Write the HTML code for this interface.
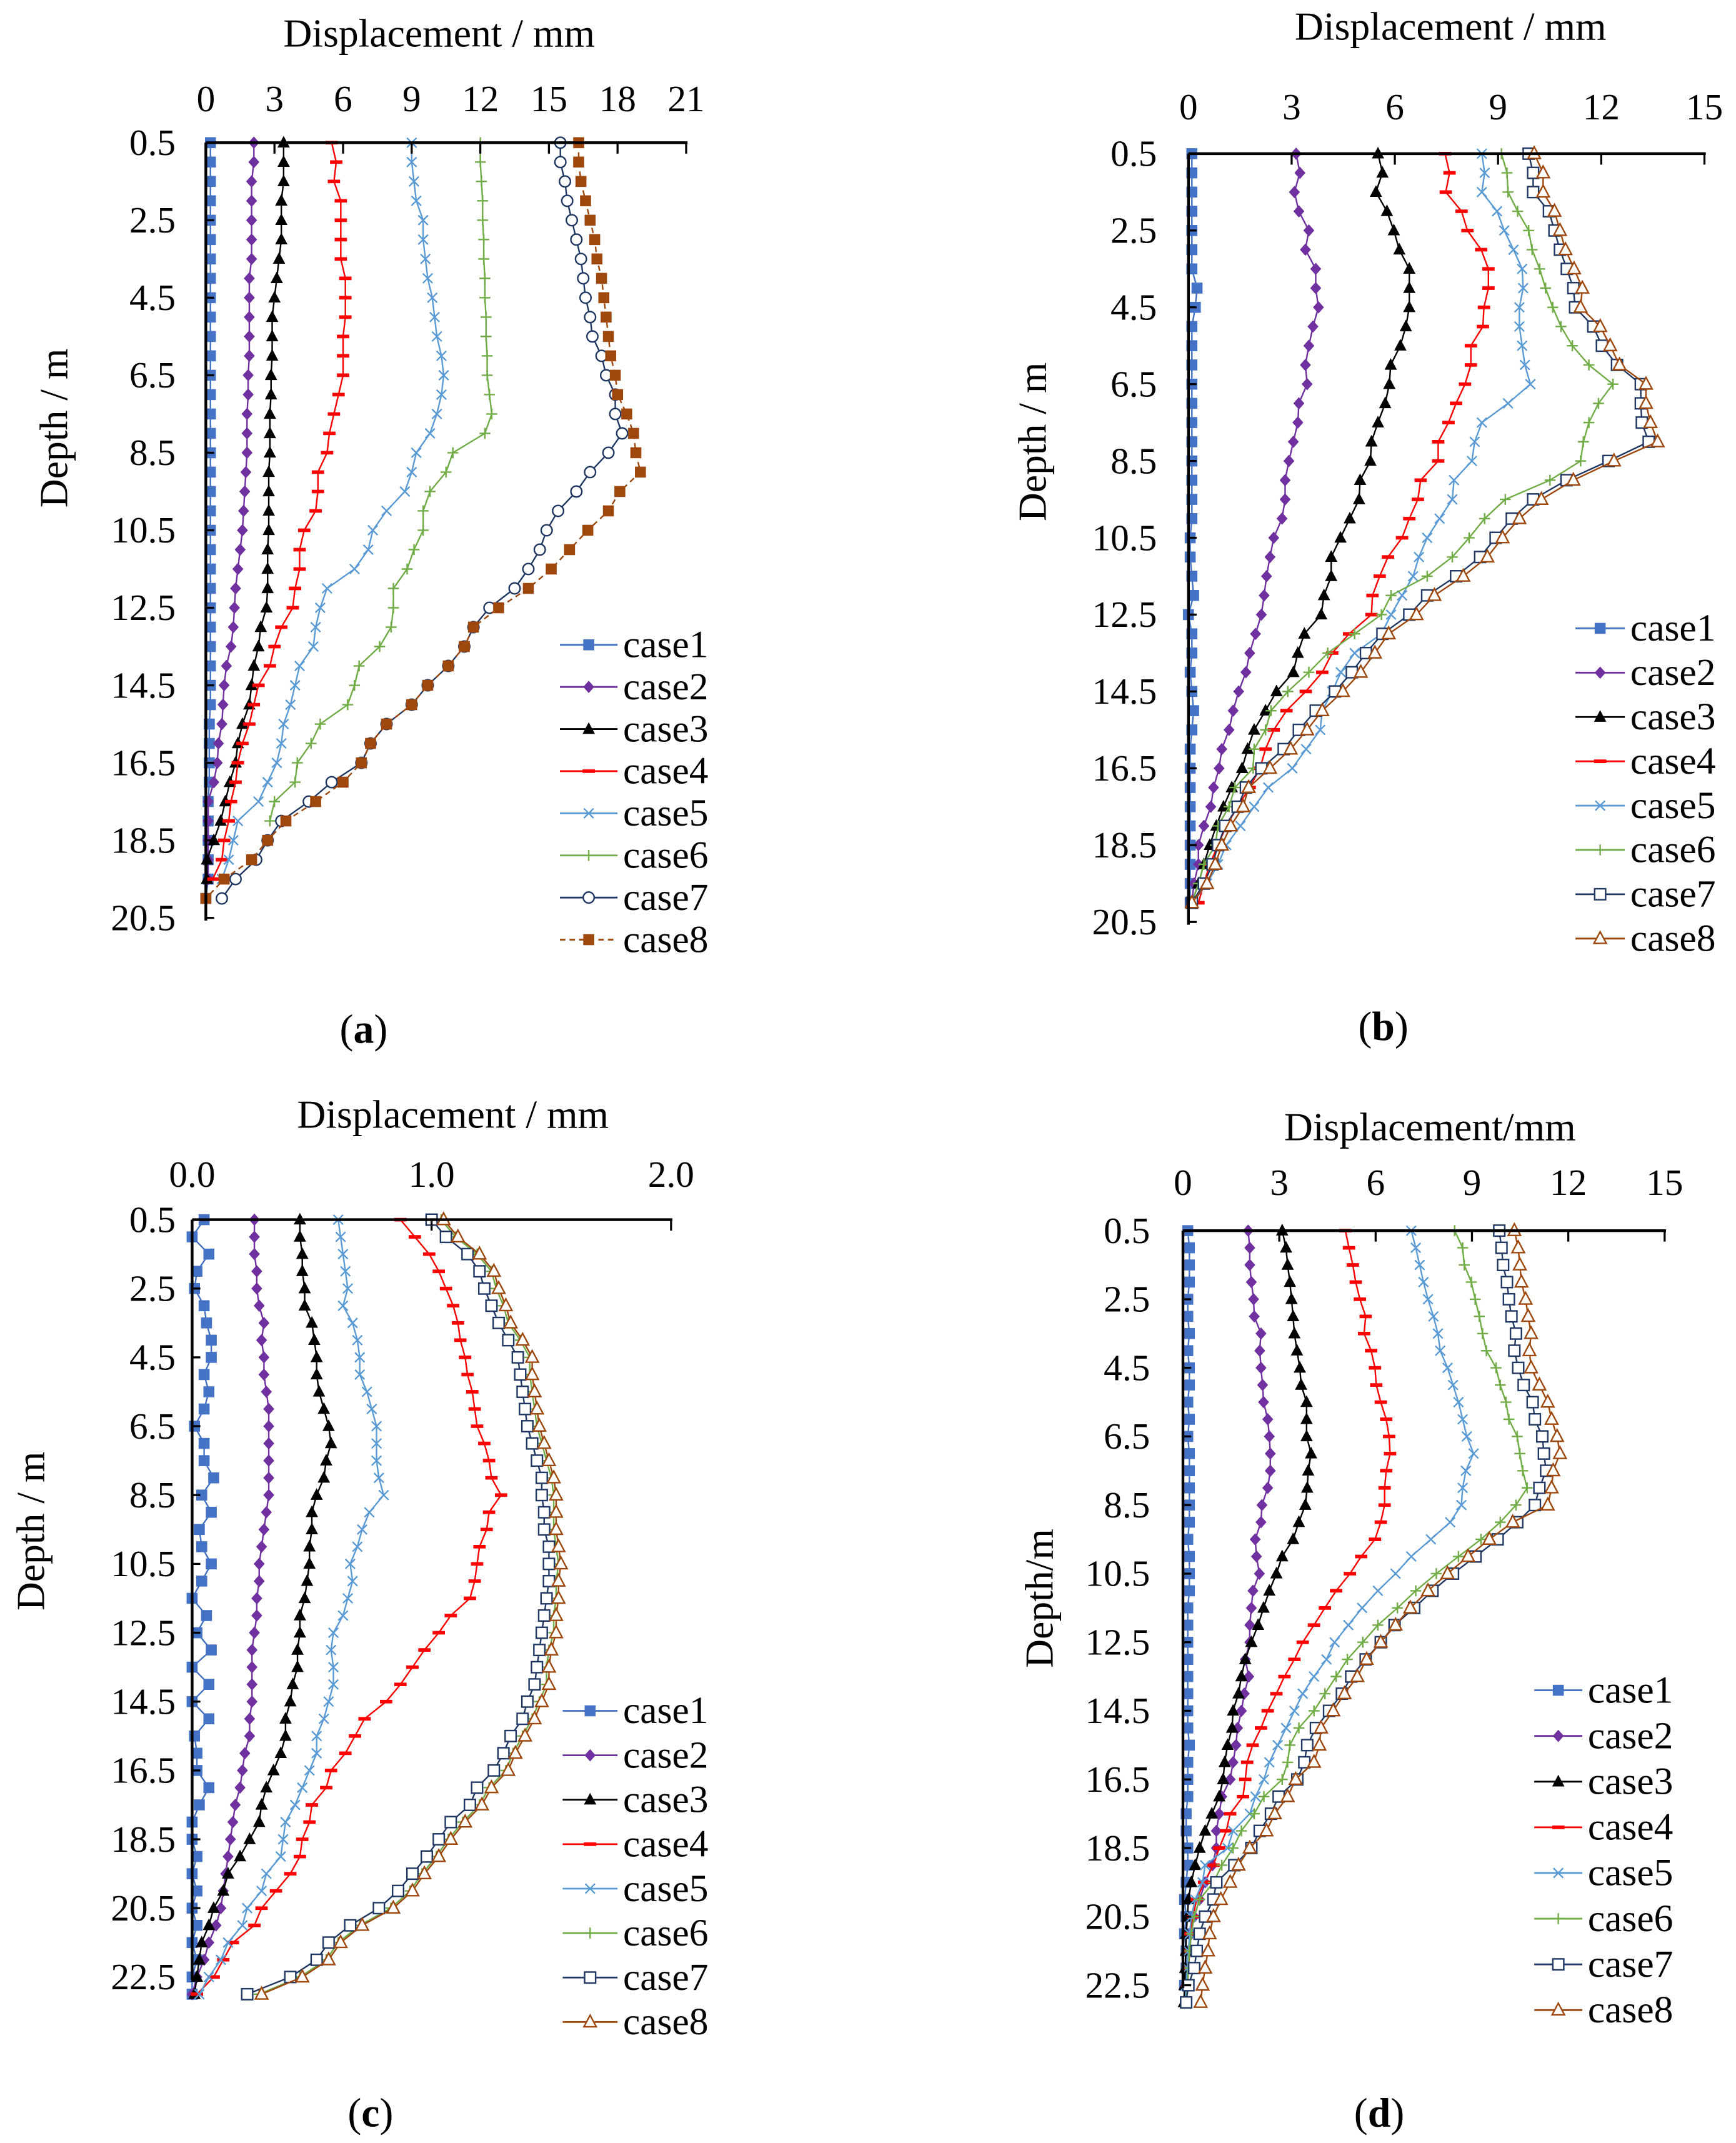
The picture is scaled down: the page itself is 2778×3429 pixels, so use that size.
<!DOCTYPE html>
<html><head><meta charset="utf-8"><style>
html,body{margin:0;padding:0;background:#fff;}
svg{display:block;}
svg text{font-family:"Liberation Serif","Times New Roman",serif;}
</style></head><body>
<svg id="chart" xmlns="http://www.w3.org/2000/svg" width="2778" height="3429" viewBox="0 0 1265 1562" preserveAspectRatio="none" font-family="Liberation Serif, serif"></svg>
<script>
// ---- data ----
const depthsAB = [0.5,1,1.5,2,2.5,3,3.5,4,4.5,5,5.5,6,6.5,7,7.5,8,8.5,9,9.5,10,10.5,11,11.5,12,12.5,13,13.5,14,14.5,15,15.5,16,16.5,17,17.5,18,18.5,19,19.5,20];
const depthsCD = [0.5,1,1.5,2,2.5,3,3.5,4,4.5,5,5.5,6,6.5,7,7.5,8,8.5,9,9.5,10,10.5,11,11.5,12,12.5,13,13.5,14,14.5,15,15.5,16,16.5,17,17.5,18,18.5,19,19.5,20,20.5,21,21.5,22,22.5,23];
const caseNames = ["case1","case2","case3","case4","case5","case6","case7","case8"];
const xTicksA = ["0","3","6","9","12","15","18","21"];
const xTicksB = ["0","3","6","9","12","15"];
const xTicksC = ["0.0","1.0","2.0"];
const xTicksD = ["0","3","6","9","12","15"];
const yTicksAB = ["0.5","2.5","4.5","6.5","8.5","10.5","12.5","14.5","16.5","18.5","20.5"];
const yTicksCD = ["0.5","2.5","4.5","6.5","8.5","10.5","12.5","14.5","16.5","18.5","20.5","22.5"];

const a1 = [0.2,0.2,0.2,0.2,0.2,0.2,0.2,0.2,0.2,0.2,0.2,0.2,0.2,0.2,0.2,0.2,0.2,0.2,0.2,0.2,0.2,0.2,0.2,0.2,0.2,0.2,0.2,0.2,0.2,0.2,0.15,0.15,0.15,0.15,0.1,0.1,0.1,0.1,0.1,0.0];
const a2 = [2.1,2.1,2.0,2.0,2.0,2.0,2.0,1.9,1.9,1.9,1.9,1.9,1.85,1.85,1.8,1.8,1.8,1.75,1.7,1.65,1.6,1.5,1.4,1.3,1.25,1.2,1.1,0.9,0.8,0.75,0.7,0.55,0.5,0.35,0.1,0.1,0.1,0.1,0.1];
const a3 = [3.4,3.4,3.4,3.3,3.3,3.3,3.2,3.1,3.0,2.9,2.9,2.9,2.85,2.85,2.8,2.8,2.8,2.75,2.75,2.75,2.75,2.7,2.7,2.7,2.65,2.4,2.3,2.1,2.0,1.9,1.6,1.4,1.3,1.05,0.85,0.65,0.35,0.05,0.05];
const a4 = [5.5,5.7,5.6,5.9,5.9,5.9,5.9,6.1,6.1,6.1,6.0,6.0,6.0,5.8,5.6,5.4,5.3,4.9,4.9,4.8,4.3,4.1,4.1,3.9,3.8,3.3,3.0,2.8,2.3,2.1,1.9,1.6,1.4,1.3,1.1,1.0,0.8,0.7,0.3];
const a5 = [9.0,9.0,9.1,9.2,9.5,9.5,9.6,9.7,9.9,10.0,10.1,10.3,10.4,10.3,10.1,9.8,9.2,9.0,8.7,7.9,7.3,7.1,6.5,5.3,5.0,4.8,4.7,4.1,3.9,3.7,3.4,3.3,3.1,2.7,2.3,1.4,1.2,1.0,0.7];
const a6 = [12.0,12.0,12.05,12.1,12.1,12.15,12.15,12.2,12.2,12.25,12.25,12.3,12.3,12.4,12.5,12.2,10.8,10.5,9.8,9.5,9.5,9.1,8.8,8.2,8.2,8.1,7.6,6.7,6.5,6.2,5.0,4.6,4.0,3.9,3.0,2.8];
const a7 = [15.5,15.5,15.7,15.8,16.0,16.2,16.4,16.5,16.6,16.8,16.9,17.3,17.5,17.9,17.9,18.2,17.6,16.8,16.2,15.4,14.9,14.6,14.1,13.5,12.4,11.7,11.3,10.6,9.7,9.0,7.9,7.2,6.8,5.5,4.5,3.3,2.7,2.2,1.3,0.7];
const a8 = [16.3,16.3,16.4,16.6,16.8,17.0,17.1,17.3,17.4,17.5,17.6,17.7,17.9,18.0,18.4,18.7,18.8,19.0,18.1,17.6,16.7,15.9,15.1,14.1,12.8,11.7,11.3,10.6,9.7,9.0,7.9,7.2,6.8,6.0,4.8,3.5,2.7,2.0,0.8,0.0];

const b1 = [0.1,0.1,0.1,0.1,0.1,0.1,0.1,0.25,0.2,0.1,0.1,0.1,0.1,0.1,0.1,0.1,0.1,0.1,0.1,0.1,0.05,0.05,0.1,0.15,0.0,0.1,0.1,0.05,0.1,0.15,0.1,0.05,0.05,0.05,0.05,0.05,0.05,0.05,0.05,0.05];
const b2 = [3.13,3.24,3.08,3.21,3.5,3.4,3.7,3.7,3.78,3.62,3.5,3.4,3.45,3.21,3.18,3.05,2.92,2.81,2.81,2.72,2.48,2.37,2.27,2.2,2.12,1.95,1.78,1.67,1.46,1.3,1.18,0.97,0.89,0.73,0.65,0.45,0.29,0.29,0.16,0.1];
const b3 = [5.51,5.64,5.45,5.77,5.97,6.13,6.42,6.42,6.42,6.32,6.16,5.88,5.84,5.72,5.51,5.32,5.29,4.99,4.96,4.69,4.42,4.15,4.15,3.94,3.86,3.37,3.18,3.05,2.56,2.24,1.91,1.72,1.56,1.26,1.02,0.81,0.62,0.45,0.29,0.1];
const b4 = [7.46,7.59,7.48,7.94,8.11,8.51,8.72,8.72,8.59,8.56,8.21,8.21,8.04,7.78,7.56,7.26,7.26,6.75,6.67,6.42,6.21,5.8,5.56,5.35,5.32,4.67,4.18,3.89,3.41,2.85,2.48,2.24,2.08,1.78,1.43,1.1,0.86,0.62,0.45,0.29];
const b5 = [8.53,8.61,8.53,8.97,9.18,9.45,9.7,9.73,9.62,9.62,9.7,9.78,9.94,9.29,8.53,8.32,8.24,7.72,7.67,7.3,6.94,6.7,6.53,6.21,5.89,5.61,4.83,4.43,4.18,3.89,3.83,3.42,3.02,2.32,1.91,1.51,1.1,0.86,0.54,0.13];
const b6 = [9.1,9.26,9.29,9.57,9.89,9.99,10.21,10.38,10.59,10.83,11.16,11.64,12.34,11.92,11.64,11.48,11.4,10.51,9.21,8.61,8.16,7.67,6.94,5.89,5.61,4.83,4.05,3.5,2.89,2.4,2.24,1.91,1.88,1.35,1.18,0.86,0.78,0.45,0.29,0.1];
const b7 = [9.89,10.02,10.02,10.48,10.64,10.8,11.0,11.19,11.24,11.77,12.02,12.46,13.15,13.15,13.18,13.38,12.21,10.99,10.02,9.4,8.93,8.48,7.78,6.94,6.42,5.64,5.16,4.75,4.26,3.7,3.21,2.77,2.12,1.67,1.43,1.07,0.86,0.7,0.45,0.1];
const b8 = [10.05,10.31,10.31,10.64,10.8,10.96,11.21,11.45,11.4,11.97,12.26,12.53,13.3,13.3,13.43,13.64,12.37,11.19,10.26,9.62,9.13,8.69,7.99,7.15,6.63,5.82,5.42,5.01,4.49,3.89,3.45,2.97,2.37,1.75,1.59,1.23,0.97,0.78,0.54,0.1];

const c1 = [0.05,0.0,0.07,0.02,0.01,0.05,0.06,0.08,0.08,0.05,0.07,0.05,0.01,0.05,0.05,0.09,0.04,0.08,0.03,0.04,0.08,0.04,0.0,0.06,0.02,0.08,0.0,0.07,0.0,0.07,0.01,0.02,0.02,0.07,0.03,0.0,0.0,0.02,0.0,0.02,0.0,0.02,0.0,0.02,0.0,0.0];
const c2 = [0.26,0.26,0.26,0.27,0.27,0.28,0.3,0.29,0.3,0.3,0.31,0.32,0.32,0.32,0.32,0.32,0.32,0.31,0.3,0.29,0.28,0.28,0.27,0.27,0.26,0.25,0.25,0.25,0.25,0.24,0.24,0.22,0.21,0.2,0.18,0.17,0.16,0.15,0.14,0.13,0.12,0.1,0.07,0.05,0.02,0.0];
const c3 = [0.45,0.45,0.46,0.46,0.47,0.47,0.5,0.51,0.52,0.52,0.53,0.55,0.57,0.58,0.56,0.55,0.52,0.5,0.5,0.49,0.49,0.48,0.47,0.45,0.45,0.44,0.44,0.42,0.41,0.39,0.39,0.37,0.34,0.31,0.29,0.28,0.24,0.2,0.15,0.13,0.09,0.07,0.04,0.03,0.02,0.01];
const c4 = [0.87,0.93,0.99,1.03,1.06,1.09,1.11,1.12,1.14,1.15,1.17,1.18,1.19,1.22,1.24,1.25,1.29,1.24,1.23,1.2,1.19,1.18,1.16,1.08,1.03,0.97,0.92,0.87,0.81,0.72,0.68,0.64,0.58,0.56,0.5,0.49,0.46,0.45,0.41,0.35,0.29,0.26,0.17,0.13,0.09,0.02];
const c5 = [0.61,0.62,0.63,0.64,0.65,0.63,0.67,0.69,0.7,0.7,0.73,0.75,0.77,0.77,0.77,0.78,0.8,0.74,0.71,0.69,0.66,0.67,0.65,0.63,0.59,0.58,0.59,0.59,0.57,0.55,0.52,0.52,0.49,0.46,0.43,0.39,0.38,0.37,0.31,0.29,0.23,0.21,0.15,0.12,0.07,0.03];
const c6 = [1.04,1.1,1.19,1.25,1.27,1.3,1.32,1.37,1.41,1.41,1.42,1.43,1.44,1.46,1.48,1.5,1.51,1.51,1.51,1.52,1.53,1.52,1.52,1.51,1.51,1.49,1.48,1.48,1.45,1.42,1.38,1.34,1.31,1.24,1.2,1.13,1.07,1.02,0.96,0.91,0.83,0.7,0.61,0.56,0.45,0.28];
const c7 = [1.0,1.06,1.15,1.2,1.22,1.25,1.28,1.32,1.36,1.37,1.38,1.39,1.4,1.42,1.44,1.46,1.46,1.47,1.47,1.49,1.49,1.49,1.48,1.47,1.46,1.45,1.44,1.43,1.4,1.38,1.33,1.3,1.26,1.19,1.16,1.08,1.03,0.98,0.92,0.86,0.78,0.66,0.57,0.52,0.41,0.23];
const c8 = [1.05,1.11,1.2,1.26,1.28,1.31,1.33,1.38,1.42,1.42,1.43,1.44,1.45,1.47,1.49,1.51,1.52,1.52,1.52,1.53,1.54,1.53,1.53,1.52,1.52,1.5,1.49,1.49,1.46,1.43,1.39,1.35,1.32,1.25,1.21,1.14,1.08,1.03,0.97,0.92,0.84,0.71,0.62,0.57,0.46,0.29];

const d1 = [0.15,0.2,0.2,0.2,0.15,0.15,0.2,0.15,0.2,0.2,0.15,0.2,0.15,0.2,0.2,0.2,0.2,0.2,0.15,0.2,0.2,0.2,0.15,0.15,0.15,0.15,0.15,0.15,0.15,0.15,0.2,0.15,0.15,0.15,0.1,0.1,0.15,0.15,0.1,0.05,0.1,0.05,0.1,0.1,0.05,0.1];
const d2 = [2.03,2.08,2.08,2.13,2.2,2.22,2.43,2.39,2.43,2.48,2.51,2.64,2.69,2.72,2.72,2.64,2.46,2.43,2.25,2.29,2.38,2.18,2.13,2.08,2.08,1.94,2.05,1.91,1.82,1.7,1.65,1.56,1.47,1.21,1.13,1.04,1.04,0.92,0.69,0.52,0.35,0.26,0.21,0.17,0.14,0.09];
const d3 = [3.09,3.21,3.26,3.33,3.38,3.43,3.47,3.55,3.64,3.68,3.85,3.85,3.85,3.99,3.9,3.87,3.81,3.61,3.43,3.09,2.91,2.69,2.51,2.34,2.13,1.94,1.82,1.73,1.56,1.53,1.39,1.3,1.25,1.13,0.9,0.69,0.52,0.38,0.26,0.17,0.14,0.1,0.09,0.07,0.05,0.03];
const d4 = [5.06,5.17,5.29,5.38,5.51,5.69,5.64,5.86,5.98,6.02,6.16,6.33,6.42,6.45,6.33,6.28,6.28,6.16,5.98,5.55,5.2,4.77,4.42,4.08,3.73,3.47,3.16,2.91,2.64,2.43,2.17,2.0,1.94,1.87,1.47,1.35,1.13,0.95,0.66,0.43,0.31,0.23,0.21,0.17,0.14,0.1];
const d5 = [7.11,7.25,7.37,7.49,7.63,7.8,7.94,8.01,8.24,8.41,8.58,8.71,8.84,9.05,8.81,8.71,8.67,8.32,7.72,7.11,6.62,6.07,5.58,5.15,4.72,4.47,4.08,3.73,3.47,3.21,2.95,2.69,2.52,2.26,2.08,1.56,1.39,0.69,0.61,0.38,0.26,0.21,0.17,0.14,0.1,0.08];
const d6 = [8.46,8.71,8.76,8.98,9.1,9.23,9.33,9.45,9.75,9.88,10.06,10.15,10.41,10.49,10.58,10.72,10.37,9.88,9.28,8.58,7.89,7.25,6.68,6.07,5.6,5.12,4.77,4.42,4.08,3.61,3.33,3.26,3.09,2.52,2.22,1.82,1.56,1.21,0.95,0.52,0.35,0.26,0.2,0.17,0.14,0.1];
const d7 = [9.85,9.92,9.97,10.09,10.15,10.23,10.37,10.32,10.44,10.61,10.89,10.96,11.19,11.24,11.31,11.1,10.96,10.41,9.8,9.11,8.41,7.77,7.2,6.59,6.16,5.69,5.24,4.95,4.55,4.14,3.87,3.78,3.56,2.98,2.74,2.39,2.13,1.6,1.04,0.95,0.69,0.52,0.43,0.35,0.17,0.1];
const d8 = [10.32,10.44,10.49,10.54,10.67,10.75,10.84,10.79,10.84,11.1,11.36,11.48,11.65,11.74,11.53,11.48,11.36,10.27,9.54,8.88,8.24,7.63,7.08,6.62,6.16,5.72,5.43,5.03,4.68,4.3,4.25,4.08,3.51,3.26,2.86,2.6,2.08,1.73,1.47,1.18,0.95,0.83,0.78,0.69,0.61,0.55];

// ---- rendering ----
const NS = "http://www.w3.org/2000/svg";
const svg = document.getElementById("chart");
function el(tag, attrs, parent){
  const e = document.createElementNS(NS, tag);
  for (const k in attrs) e.setAttribute(k, attrs[k]);
  (parent||svg).appendChild(e);
  return e;
}
const COL = {blue:"#4472C4", purple:"#7030A0", black:"#000", red:"#FF0000", lblue:"#5B9BD5", green:"#70AD47", navy:"#203864", brown:"#9E480E"};

function marker(g, type, x, y, color){
  let m;
  const s = 4;
  if (type==="square") m = el("rect",{x:x-s,y:y-s,width:2*s,height:2*s,fill:color},g);
  else if (type==="osquare") m = el("rect",{x:x-s,y:y-s,width:2*s,height:2*s,fill:"#fff",stroke:color,"stroke-width":1.1},g);
  else if (type==="diamond") m = el("polygon",{points:`${x},${y-4.5} ${x+4},${y} ${x},${y+4.5} ${x-4},${y}`,fill:color},g);
  else if (type==="tri") m = el("polygon",{points:`${x},${y-5} ${x+4.5},${y+3.5} ${x-4.5},${y+3.5}`,fill:color},g);
  else if (type==="otri") m = el("polygon",{points:`${x},${y-5} ${x+4.5},${y+3.5} ${x-4.5},${y+3.5}`,fill:"#fff",stroke:color,"stroke-width":1.1},g);
  else if (type==="dash") m = el("line",{x1:x-4.5,y1:y,x2:x+4.5,y2:y,stroke:color,"stroke-width":2.6},g);
  else if (type==="x") m = el("path",{d:`M${x-3.5},${y-3.5}L${x+3.5},${y+3.5}M${x-3.5},${y+3.5}L${x+3.5},${y-3.5}`,stroke:color,"stroke-width":1.1,fill:"none"},g);
  else if (type==="plus") m = el("path",{d:`M${x-4},${y}L${x+4},${y}M${x},${y-4}L${x},${y+4}`,stroke:color,"stroke-width":1.1,fill:"none"},g);
  else if (type==="ocircle") m = el("circle",{cx:x,cy:y,r:4,fill:"#fff",stroke:color,"stroke-width":1.1},g);
  
  
  return m;
}

function drawPanel(P){
  const g = el("g",{});
  
  
  const xs = v => P.x0 + v / P.xmax * (P.x1 - P.x0);
  const ys = d => P.y0 + (d - 0.5) / (P.dmax - 0.5) * (P.y1 - P.y0);
  P.series.forEach((vals, si) => {
    const st = P.styles[si];
    const sg = el("g",{},g);
    
    
    const pts = vals.map((v,i)=> xs(v).toFixed(2)+","+ys(P.depths[i]).toFixed(2)).join(" ");
    const pl = el("polyline",{points:pts,fill:"none",stroke:st.c,"stroke-width":1.1},sg);
    if (st.dash) pl.setAttribute("stroke-dasharray","4,3");
    
    
    vals.forEach((v,i)=> marker(sg, st.m, xs(v), ys(P.depths[i]), st.c));
  });
  const ax = el("line",{x1:P.x0,y1:P.y0,x2:P.x1+1,y2:P.y0,stroke:"#000","stroke-width":2},g);
  
  
  const ay = el("line",{x1:P.x0,y1:P.y0,x2:P.x0,y2:P.y1+2,stroke:"#000","stroke-width":2},g);
  
  
  P.xTicks.forEach((t,i)=>{
    const v = i * P.xmax / (P.xTicks.length-1);
    const x = xs(v);
    el("line",{x1:x,y1:P.y0,x2:x,y2:P.y0+8,stroke:"#000","stroke-width":1.5},g);
    const tx = el("text",{x:x,y:P.tickY,"text-anchor":"middle","font-size":27,"font-family":"Liberation Serif, serif"},g);
    tx.textContent = t;
    
    
  });
  P.yTicks.forEach(t=>{
    const y = ys(parseFloat(t));
    el("line",{x1:P.x0,y1:y,x2:P.x0+6,y2:y,stroke:"#000","stroke-width":1.5},g);
    const tx = el("text",{x:P.yLabX,y:y+9,"text-anchor":"end","font-size":27,"font-family":"Liberation Serif, serif"},g);
    tx.textContent = t;
    
    
  });
  const xt = el("text",{x:P.titleX,y:P.titleY,"text-anchor":"middle","font-size":29,"font-family":"Liberation Serif, serif"},g);
  xt.textContent = P.xTitle;
  
  
  const yt = el("text",{x:0,y:0,"text-anchor":"middle","font-size":29,"font-family":"Liberation Serif, serif",transform:`translate(${P.ytX},${P.ytY}) rotate(-90)`},g);
  yt.textContent = P.yTitle;
  
  
  const lg = el("g",{},g);
  
  
  caseNames.forEach((n,i)=>{
    const st = P.styles[i];
    const y = P.legY + i*P.legDy;
    const eg = el("g",{},lg);
    
    
    const ln = el("line",{x1:P.legX,y1:y,x2:P.legX+P.legW,y2:y,stroke:st.c,"stroke-width":1.3},eg);
    if (st.dash) ln.setAttribute("stroke-dasharray","4,3");
    marker(eg, st.m, P.legX+P.legW/2, y, st.c);
    const tx = el("text",{x:P.legX+P.legW+4,y:y+9,"font-size":28,"font-family":"Liberation Serif, serif"},eg);
    tx.textContent = n;
  });
  const pl = el("text",{x:P.labX,y:P.labY,"text-anchor":"middle","font-size":30,"font-family":"Liberation Serif, serif"},g);
  pl.innerHTML = '(<tspan font-weight="bold">'+P.id+'</tspan>)';
  
  
}

const stylesA = [{c:COL.blue,m:"square"},{c:COL.purple,m:"diamond"},{c:COL.black,m:"tri"},{c:COL.red,m:"dash"},{c:COL.lblue,m:"x"},{c:COL.green,m:"plus"},{c:COL.navy,m:"ocircle"},{c:COL.brown,m:"square",dash:true}];
const stylesB = [{c:COL.blue,m:"square"},{c:COL.purple,m:"diamond"},{c:COL.black,m:"tri"},{c:COL.red,m:"dash"},{c:COL.lblue,m:"x"},{c:COL.green,m:"plus"},{c:COL.navy,m:"osquare"},{c:COL.brown,m:"otri"}];

drawPanel({id:"a",x0:150,x1:500,y0:104,y1:669,xmax:21,dmax:20.5,depths:depthsAB,series:[a1,a2,a3,a4,a5,a6,a7,a8],styles:stylesA,
  xTicks:xTicksA,yTicks:yTicksAB,tickY:81,yLabX:128,titleX:320,titleY:34,xTitle:"Displacement / mm",ytX:49,ytY:312,yTitle:"Depth / m",
  legX:408,legW:42,legY:470,legDy:30.7,labX:265,labY:760});
drawPanel({id:"b",x0:866,x1:1242,y0:112,y1:672,xmax:15,dmax:20.5,depths:depthsAB,series:[b1,b2,b3,b4,b5,b6,b7,b8],styles:stylesB,
  xTicks:xTicksB,yTicks:yTicksAB,tickY:87,yLabX:843,titleX:1057,titleY:29,xTitle:"Displacement / mm",ytX:762,ytY:322,yTitle:"Depth / m",
  legX:1148,legW:36,legY:458,legDy:32.3,labX:1008,labY:758});
drawPanel({id:"c",x0:140,x1:489,y0:889,y1:1441,xmax:2,dmax:22.5,depths:depthsCD,series:[c1,c2,c3,c4,c5,c6,c7,c8],styles:stylesB,
  xTicks:xTicksC,yTicks:yTicksCD,tickY:865,yLabX:128,titleX:330,titleY:822,xTitle:"Displacement / mm",ytX:32,ytY:1116,yTitle:"Depth / m",
  legX:410,legW:40,legY:1247,legDy:32.4,labX:270,labY:1550});
drawPanel({id:"d",x0:862,x1:1213,y0:897,y1:1447,xmax:15,dmax:22.5,depths:depthsCD,series:[d1,d2,d3,d4,d5,d6,d7,d8],styles:stylesB,
  xTicks:xTicksD,yTicks:yTicksCD,tickY:871,yLabX:838,titleX:1042,titleY:831,xTitle:"Displacement/mm",ytX:767,ytY:1165,yTitle:"Depth/m",
  legX:1118,legW:35,legY:1232,legDy:33.3,labX:1005,labY:1550});
</script>
</body></html>
